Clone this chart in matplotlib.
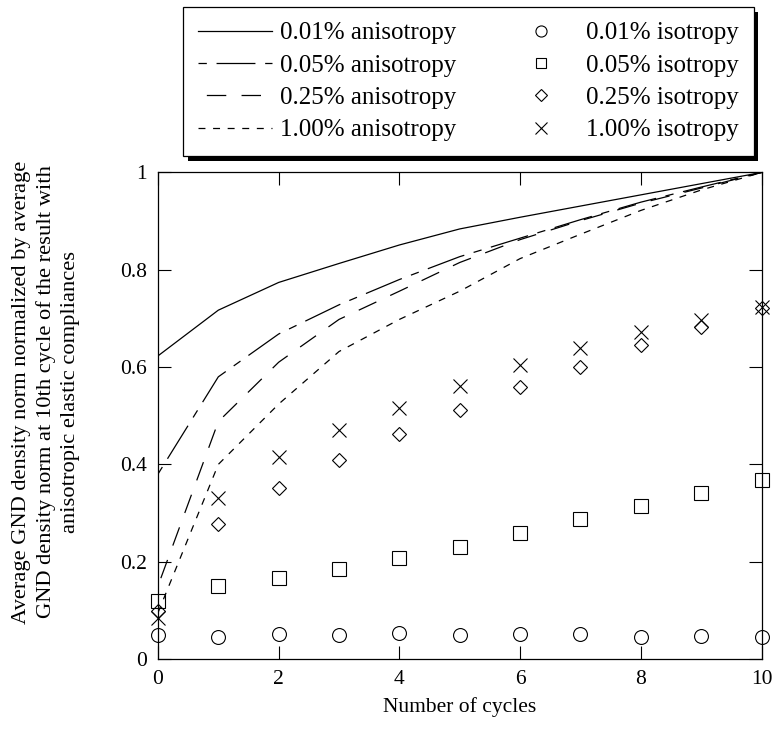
import matplotlib
matplotlib.use('Agg')
import matplotlib.pyplot as plt
import matplotlib.patches as mpatches
import numpy as np

plt.rcParams['font.family'] = ['Liberation Serif', 'DejaVu Serif']
plt.rcParams['font.size'] = 15.5
plt.rcParams['lines.scale_dashes'] = False

cycles = np.arange(0, 11)

aniso_001 = [0.623, 0.717, 0.774, 0.813, 0.851, 0.884, 0.908, 0.931, 0.954, 0.977, 1.0]
aniso_005 = [0.38, 0.58, 0.668, 0.728, 0.780, 0.827, 0.865, 0.903, 0.939, 0.970, 1.0]
aniso_025 = [0.15, 0.488, 0.610, 0.698, 0.756, 0.815, 0.862, 0.901, 0.937, 0.968, 1.0]
aniso_100 = [0.095, 0.400, 0.524, 0.632, 0.698, 0.756, 0.823, 0.873, 0.922, 0.964, 1.0]

iso_001 = [0.049, 0.045, 0.051, 0.049, 0.053, 0.049, 0.051, 0.051, 0.046, 0.048, 0.046]
iso_005 = [0.119, 0.149, 0.167, 0.185, 0.207, 0.230, 0.258, 0.287, 0.315, 0.342, 0.368]
iso_025 = [0.099, 0.277, 0.351, 0.408, 0.462, 0.512, 0.560, 0.601, 0.645, 0.683, 0.721]
iso_100 = [0.084, 0.330, 0.415, 0.471, 0.515, 0.561, 0.604, 0.639, 0.673, 0.697, 0.724]

labels_aniso = ['0.01% anisotropy', '0.05% anisotropy', '0.25% anisotropy', '1.00% anisotropy']
labels_iso = ['0.01% isotropy', '0.05% isotropy', '0.25% isotropy', '1.00% isotropy']
ytick_labels = ['0', '0.2', '0.4', '0.6', '0.8', '1']

fig = plt.figure(figsize=(7.77, 7.4), dpi=100)
ax = fig.add_axes([0.2033, 0.1095, 0.7768, 0.6574])

lw = 0.9
l1, = ax.plot(cycles, aniso_001, color='black', lw=lw, label=labels_aniso[0])
l2, = ax.plot(cycles, aniso_005, color='black', lw=lw, label=labels_aniso[1],
              ls=(35, (28, 7, 6, 7)))
l3, = ax.plot(cycles, aniso_025, color='black', lw=lw, label=labels_aniso[2],
              ls=(19, (14, 11)))
l4, = ax.plot(cycles, aniso_100, color='black', lw=lw, label=labels_aniso[3],
              ls=(0, (5, 5.5)))

mk = dict(ls='none', color='black', mfc='none', mew=0.8, clip_on=False)
m1, = ax.plot(cycles, iso_001, marker='o', ms=10, label=labels_iso[0], **mk)
m2, = ax.plot(cycles, iso_005, marker='s', ms=9.5, label=labels_iso[1], **mk)
m3, = ax.plot(cycles, iso_025, marker='D', ms=7.5, label=labels_iso[2], **mk)
m4, = ax.plot(cycles, iso_100, marker='x', ms=10.5, label=labels_iso[3], **mk)

ax.set_xlim(0, 10)
ax.set_ylim(0, 1)
ax.set_xticks([0, 2, 4, 6, 8, 10])
ax.set_yticks([0, 0.2, 0.4, 0.6, 0.8, 1.0])
ax.set_yticklabels(ytick_labels)
ax.tick_params(direction='in', length=9.5, width=0.8, top=True, right=True, pad=8)
for s in ax.spines.values():
    s.set_linewidth(0.9)

ax.set_xlabel('Number of cycles', labelpad=6)
ax.set_ylabel('Average GND density norm normalized by average\n'
              'GND density norm at 10th cycle of the result with\n'
              'anisotropic elastic compliances', fontsize=16.2, linespacing=1.36,
              va='center')
ax.yaxis.set_label_coords(-0.1856, 0.549)

leg = fig.legend(handles=[l1, l2, l3, l4, m1, m2, m3, m4], ncol=2, fontsize=18,
                 loc='upper left', bbox_to_anchor=(183 / 777, 1 - 7 / 740),
                 borderaxespad=0,
                 frameon=True, fancybox=False, shadow=False,
                 edgecolor='black', handlelength=2.96, columnspacing=1.9,
                 labelspacing=0.39, borderpad=0.6, handletextpad=0.32,
                 markerscale=0.8)
leg.get_frame().set_linewidth(0.9)
leg.get_frame().set_alpha(1)

# thicker drop shadow like the original
fig.canvas.draw()
bb = leg.get_window_extent()
off = 4.5
shadow = mpatches.Rectangle((bb.x0 + off, bb.y0 - off), bb.width, bb.height,
                            transform=None, facecolor='black', edgecolor='none',
                            zorder=leg.get_zorder() - 0.1)
fig.add_artist(shadow)

fig.savefig('out.png', dpi=100)
